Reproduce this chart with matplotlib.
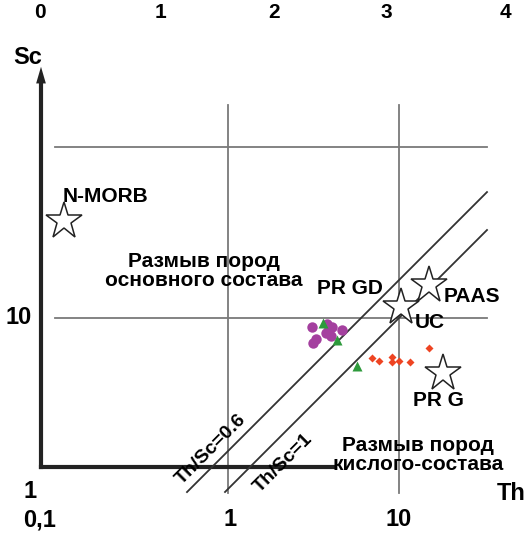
import numpy as np
import matplotlib
matplotlib.use('Agg')
import matplotlib.pyplot as plt

plt.rcParams['font.family'] = ['Liberation Sans', 'DejaVu Sans']
plt.rcParams['font.weight'] = 'bold'

# reference compositions (Th, Sc)
ref_names = ['N-MORB', 'UC', 'PAAS', 'PR G']
ref_th = [0.11, 10.3, 15.0, 18.0]
ref_sc = [37.0, 11.6, 15.6, 4.8]

# samples
purple_th = [3.09, 3.27, 3.13, 3.81, 3.74, 3.99, 4.62, 4.04]
purple_sc = [8.89, 7.50, 7.17, 9.22, 8.20, 7.85, 8.51, 8.89]
green_th = [3.59, 4.34, 5.68]
green_sc = [9.35, 7.43, 5.24]
red_th = [6.95, 7.64, 9.10, 9.10, 10.0, 11.6, 15.0]
red_sc = [5.84, 5.61, 5.91, 5.53, 5.61, 5.53, 6.68]

ratios = [0.6, 1.0]
ratio_labels = ['Th/Sc=0.6', 'Th/Sc=1']
th_ticks = ['0,1', '1', '10']
top_labels = ['0', '1', '2', '3', '4']

W, H = 529, 535
fig = plt.figure(figsize=(W / 100, H / 100), dpi=100)
ax = fig.add_axes([0, 0, 1, 1])
ax.set_xscale('log')
ax.set_yscale('log')
# Th=1 at px 228, Sc=1 at px 489 (from top), 171 px per decade
dec = 171.0
ax.set_xlim(10 ** (-228 / dec), 10 ** ((W - 228) / dec))
ax.set_ylim(10 ** (-(H - 489) / dec), 10 ** (489 / dec))
ax.axis('off')


def P(x, y):
    # pixel position -> axes fraction
    return x / W, 1 - y / H


def th(x):
    return 10 ** ((x - 228) / dec)


def sc(y):
    return 10 ** ((489 - y) / dec)


grey = '#7a7a7a'
# grid lines
for v in [1, 10]:
    ax.plot([v, v], [sc(493), sc(105)], color=grey, lw=1.3, clip_on=False)
for v in [10, 100]:
    ax.plot([th(55), th(487)], [v, v], color=grey, lw=1.3, clip_on=False)

# axes
ax.plot([th(41), th(41)], [sc(467), sc(80)], color='#222222', lw=3, clip_on=False)
ax.plot([th(41), th(333)], [sc(467), sc(467)], color='#222222', lw=3, clip_on=False)
ax.annotate('', xy=P(41, 64), xytext=P(41, 90), xycoords='axes fraction',
            arrowprops=dict(arrowstyle='-|>,head_width=0.35,head_length=1.2',
                            color='#222222', lw=0))

# Th/Sc lines
for r, x0 in zip(ratios, [187, 225]):
    t = np.array([th(x0), th(487)])
    ax.plot(t, t / r, color='#333333', lw=1.3, clip_on=False)

ax.text(*P(211, 449), ratio_labels[0], transform=ax.transAxes, rotation=45,
        ha='center', va='center', fontsize=14)
ax.text(*P(283, 463), ratio_labels[1], transform=ax.transAxes, rotation=45,
        ha='center', va='center', fontsize=14)

# data
ax.plot(purple_th, purple_sc, 'o', color='#a4409f', ms=7.5, mec='none', clip_on=False)
ax.plot(green_th, green_sc, '^', color='#2e9a3c', ms=6.5, mec='none', clip_on=False)
ax.plot(red_th, red_sc, 'D', color='#ee4422', ms=4.5, mec='none', clip_on=False)
ax.plot(ref_th, ref_sc, '*', ms=28, mfc='white', mec='#222222', mew=1.1,
        clip_on=False, zorder=5)

# star labels
ax.text(*P(63, 197), ref_names[0], transform=ax.transAxes, fontsize=15,
        ha='left', va='center')
ax.text(*P(430, 322), ref_names[1], transform=ax.transAxes, fontsize=15,
        ha='center', va='center')
ax.text(*P(472, 296), ref_names[2], transform=ax.transAxes, fontsize=15,
        ha='center', va='center')
ax.text(*P(438, 400), ref_names[3], transform=ax.transAxes, fontsize=15,
        ha='center', va='center')
ax.text(*P(350, 288), 'PR GD', transform=ax.transAxes, fontsize=15,
        ha='center', va='center')

# field labels
ax.text(*P(204, 271), 'Размыв пород\nосновного состава', transform=ax.transAxes,
        fontsize=15, ha='center', va='center', linespacing=1.0)
ax.text(*P(418, 455), 'Размыв пород\nкислого-состава', transform=ax.transAxes,
        fontsize=15, ha='center', va='center', linespacing=1.0)

# tick labels
for lab, x in zip(th_ticks, [40, 230, 399]):
    ax.text(*P(x, 520), lab, transform=ax.transAxes, fontsize=17,
            ha='center', va='center')
ax.text(*P(30, 492), '1', transform=ax.transAxes, fontsize=17, ha='center', va='center')
ax.text(*P(19, 318), '10', transform=ax.transAxes, fontsize=17, ha='center', va='center')
ax.text(*P(511, 494), 'Th', transform=ax.transAxes, fontsize=17, ha='center', va='center')
ax.text(*P(28, 58), 'Sc', transform=ax.transAxes, fontsize=17, ha='center', va='center')

for lab, x in zip(top_labels, [40, 160, 274, 386, 505]):
    ax.text(*P(x, 13), lab, transform=ax.transAxes, fontsize=15,
            ha='center', va='center')

fig.savefig('out.png', dpi=100)
